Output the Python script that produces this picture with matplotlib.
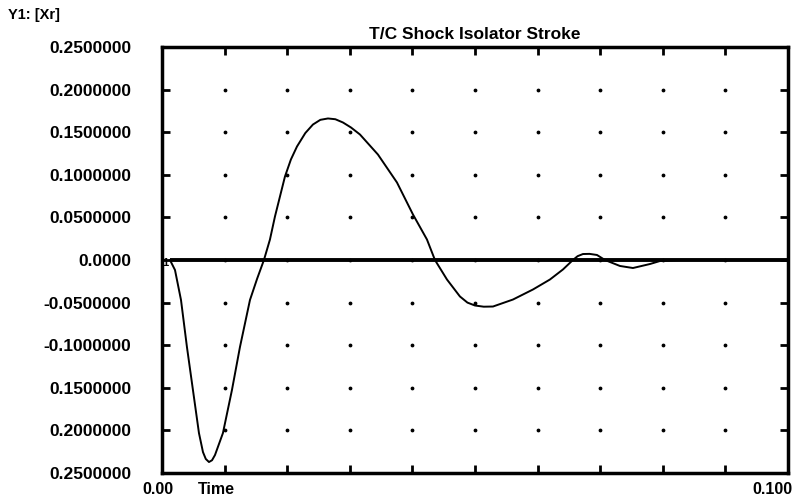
import matplotlib
matplotlib.use("Agg")
import matplotlib.pyplot as plt
import numpy as np

# --- data ---
t = [0.00128, 0.00208, 0.00304, 0.00399, 0.00495, 0.00591, 0.00655, 0.00700,
     0.00751, 0.00800, 0.00847, 0.00974, 0.01118, 0.01246, 0.01406, 0.01520,
     0.01629, 0.01725, 0.01805, 0.01965, 0.02060, 0.02157, 0.02290, 0.02412,
     0.02530, 0.02652, 0.02770, 0.02891, 0.03020, 0.03163, 0.03450, 0.03754,
     0.04010, 0.04233, 0.04361, 0.04553, 0.04760, 0.04880, 0.05000, 0.05140,
     0.05288, 0.05607, 0.05927, 0.06198, 0.06406, 0.06565, 0.06640, 0.06725,
     0.06830, 0.06949, 0.07077, 0.07316, 0.07524, 0.07796, 0.07955, 0.0827,
     0.090, 0.100]
xr = [0.0, -0.0117, -0.0469, -0.1021, -0.1526, -0.2031, -0.2254, -0.2335,
      -0.2371, -0.2350, -0.2289, -0.2031, -0.1526, -0.1021, -0.0469, -0.0220,
      0.0, 0.0240, 0.0510, 0.0980, 0.1180, 0.1332, 0.1490, 0.1590,
      0.1645, 0.1661, 0.1652, 0.1614, 0.1555, 0.1473, 0.1238, 0.0910,
      0.0534, 0.0241, 0.0, -0.0229, -0.0428, -0.0500, -0.0534, -0.0548,
      -0.0546, -0.0464, -0.0346, -0.0229, -0.0111, 0.0, 0.0045, 0.0070,
      0.0072, 0.0059, 0.0, -0.0070, -0.0094, -0.0047, -0.0012, 0.0,
      0.0, 0.0]

y_ticks = [0.25, 0.2, 0.15, 0.1, 0.05, 0.0, -0.05, -0.1, -0.15, -0.2, -0.25]
y_labels = ["0.2500000", "0.2000000", "0.1500000", "0.1000000", "0.0500000",
            "0.0000", "-0.0500000", "-0.1000000", "0.1500000", "0.2000000",
            "0.2500000"]
x_ticks = [i * 0.01 for i in range(11)]

plt.rcParams['font.family'] = ['Liberation Sans', 'DejaVu Sans']
plt.rcParams['font.weight'] = 'bold'

fig = plt.figure(figsize=(8.01, 5.03), dpi=100)
ax = fig.add_axes([0.2022, 0.0596, 0.7815, 0.847])

# dotted grid at tick intersections
gx, gy = np.meshgrid(x_ticks[1:-1], y_ticks[1:-1])
ax.scatter(gx.ravel(), gy.ravel(), s=3, color='black', zorder=2)

ax.hlines(0, t[0], 0.1, color='black', linewidth=2.8, zorder=3)
ax.plot(t, xr, color='black', linewidth=1.4, zorder=4)
ax.text(t[0] - 0.0003, -0.003, "1", fontsize=8, ha='right', va='center')

ax.set_xlim(0, 0.1)
ax.set_ylim(-0.25, 0.25)
ax.set_xticks(x_ticks)
ax.set_xticklabels([])
ax.set_yticks(y_ticks)
ax.set_yticklabels(y_labels, fontsize=12.5, fontweight='bold')
ax.tick_params(direction='in', length=6, width=2, top=True, right=True, pad=22)
for s in ax.spines.values():
    s.set_linewidth(2.5)

ax.set_title("T/C Shock Isolator Stroke", fontsize=12.5, fontweight='bold', pad=6)
fig.text(0.01, 0.97, "Y1: [Xr]", fontsize=10.5, fontweight='bold', va='center')
fig.text(158 / 801, 1 - 489 / 503, "0.00", fontsize=11.5, fontweight='bold', ha='center', va='center')
fig.text(216 / 801, 1 - 489 / 503, "Time", fontsize=11.5, fontweight='bold', ha='center', va='center')
fig.text(772 / 801, 1 - 489 / 503, "0.100", fontsize=11.5, fontweight='bold', ha='center', va='center')

fig.savefig("out.png", dpi=100)
